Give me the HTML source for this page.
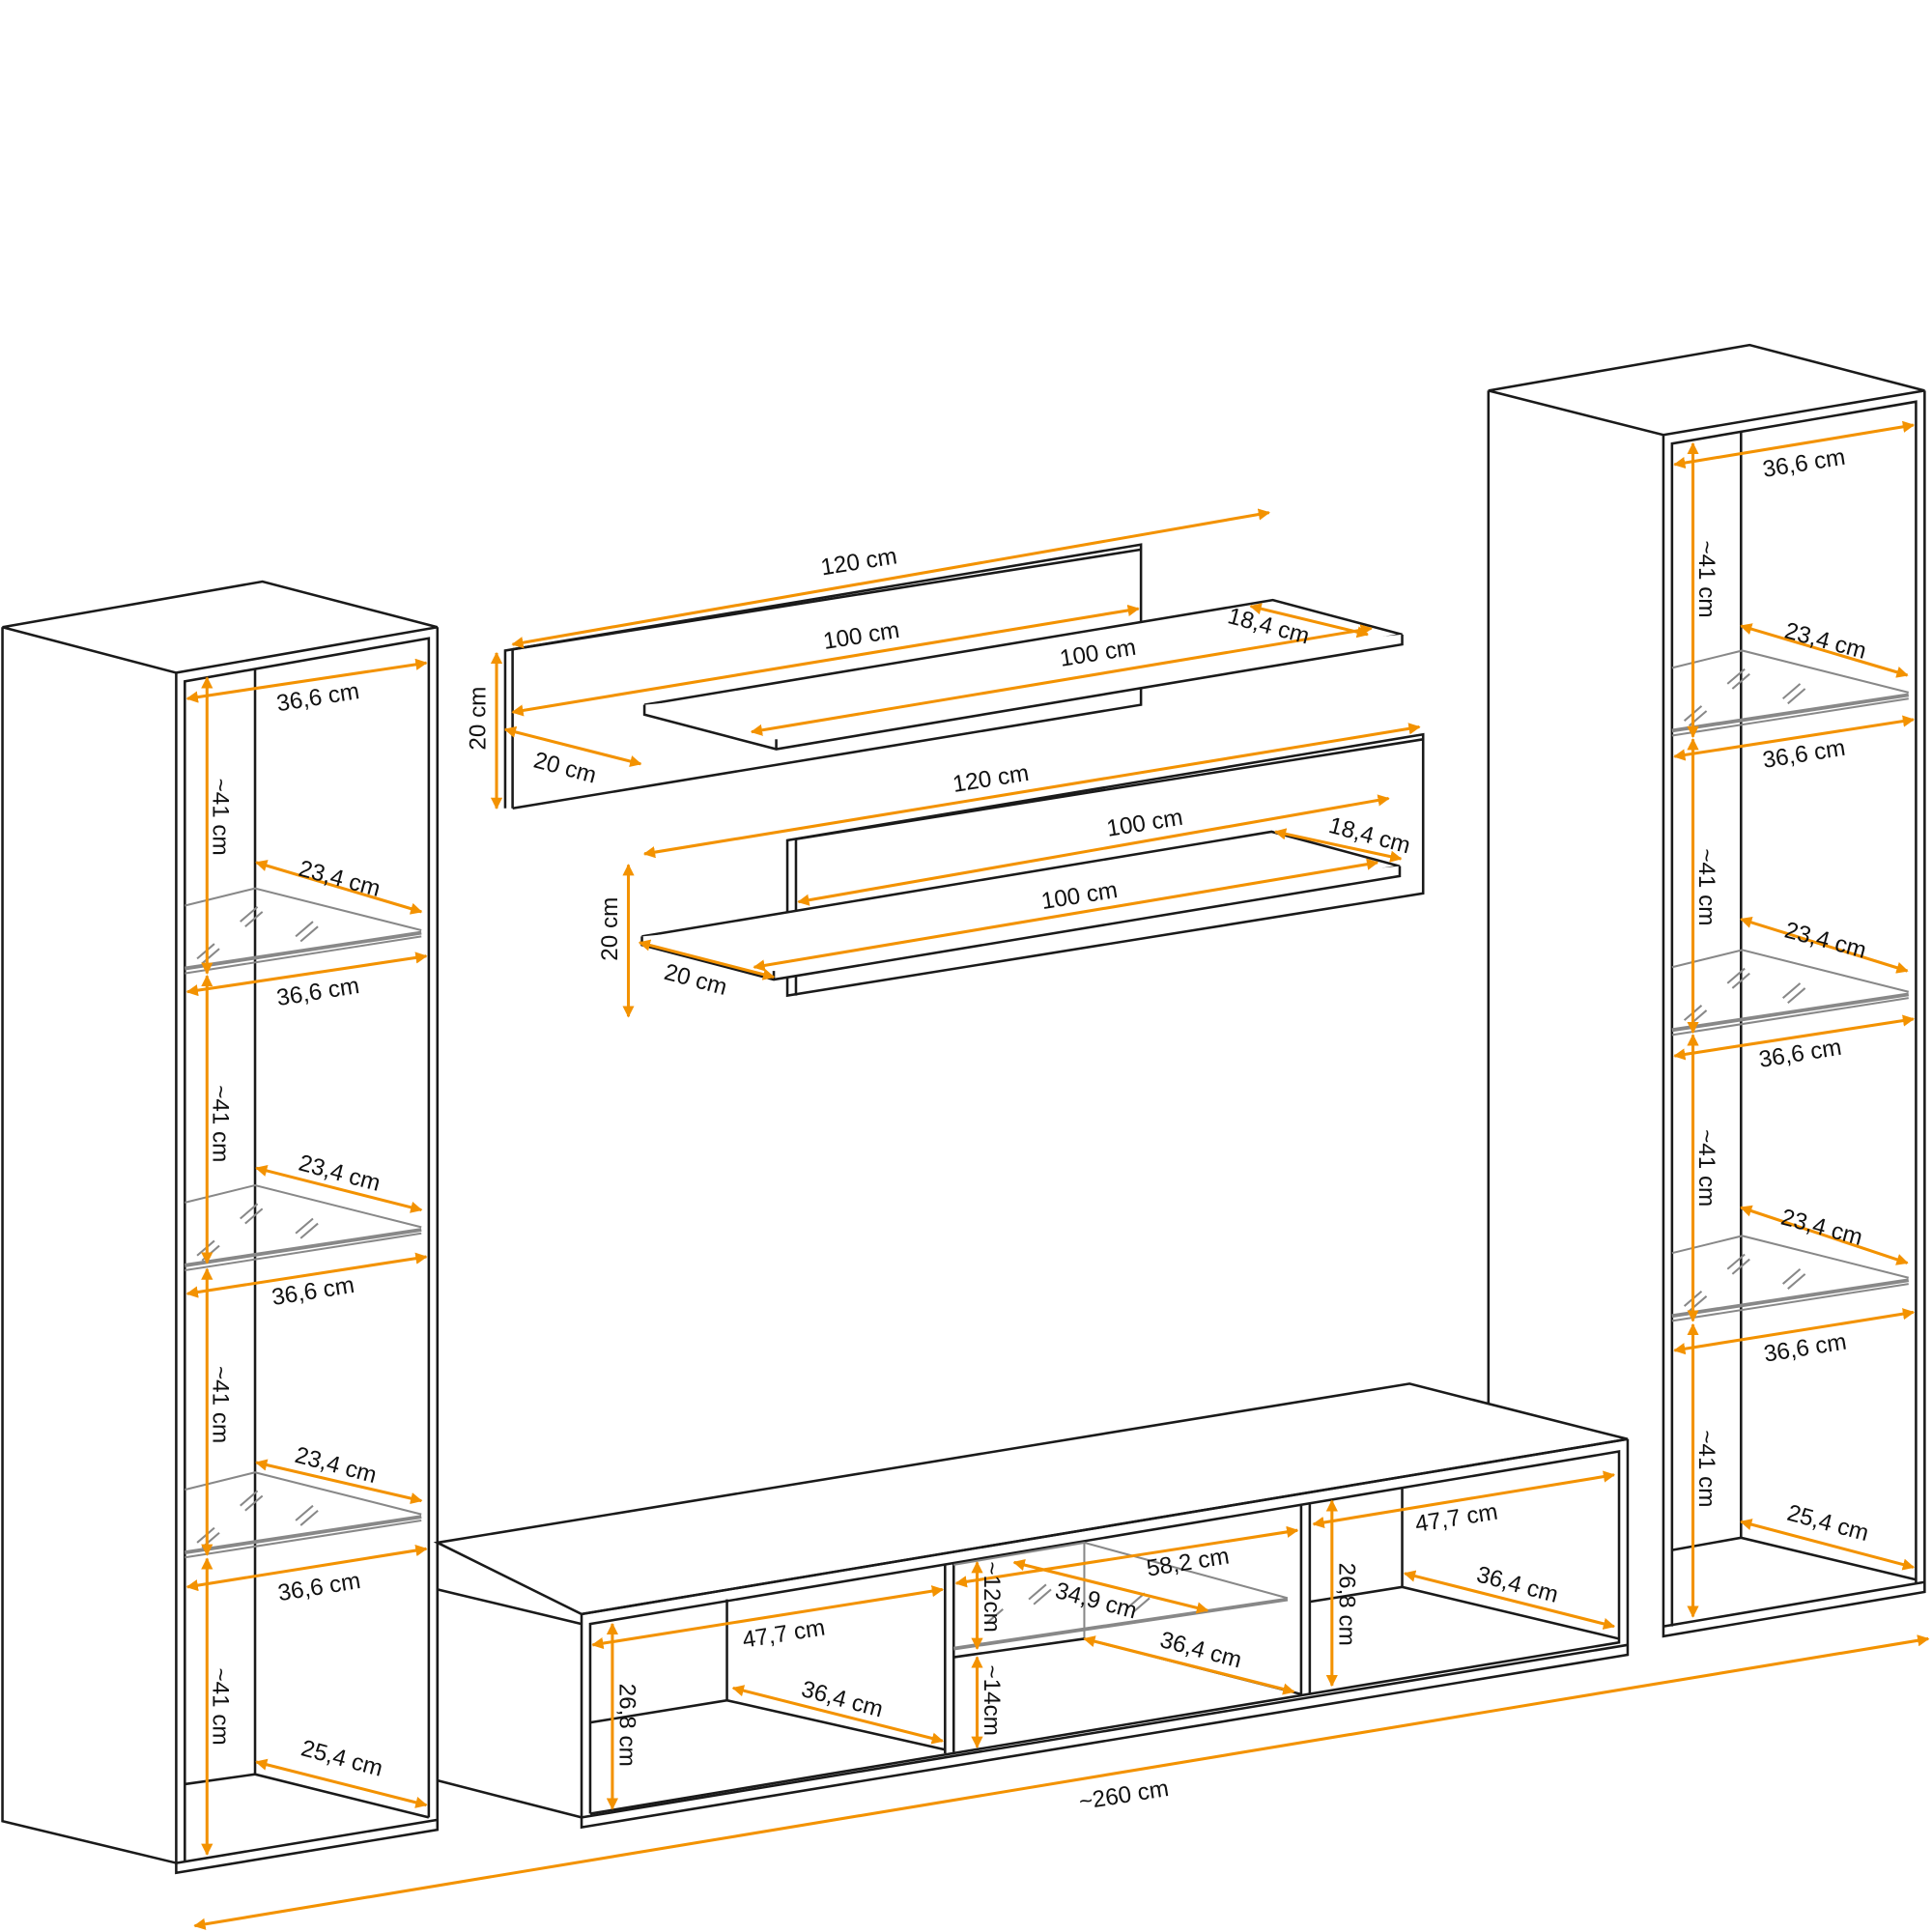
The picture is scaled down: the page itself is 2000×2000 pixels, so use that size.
<!DOCTYPE html>
<html><head><meta charset="utf-8"><style>
html,body{margin:0;padding:0;background:#fff}
svg{display:block}
text{font-family:"Liberation Sans",sans-serif;font-size:19px;fill:#111}
.k{stroke:#1a1a1a;stroke-width:2;fill:none}
.kf{stroke:#1a1a1a;stroke-width:2;fill:#fff}
.g{stroke:#888;stroke-width:1.6;fill:none}
.gf{stroke:#888;stroke-width:3;fill:none}
.o{stroke:#f39200;stroke-width:2.4;fill:none;marker-start:url(#a);marker-end:url(#a)}
</style></head><body>
<svg width="2000" height="2000" viewBox="0 0 1568 1568" xmlns="http://www.w3.org/2000/svg">
<defs><marker id="a" viewBox="0 0 10 10" refX="9" refY="5" markerWidth="4" markerHeight="4" orient="auto-start-reverse"><path d="M0,0 L10,5 L0,10 z" fill="#f39200"/></marker></defs>

<!-- LEFT TOWER -->
<polygon class="kf" points="2,509 213,472 355,509 143,546"/>
<polyline class="k" points="2,509 2,1478 143,1512"/>
<polyline class="k" points="143,546 143,1520 355,1485 355,509"/>
<polyline class="k" points="150,1510 150,553 348,518 348,1475"/>
<line class="k" x1="143" y1="1512" x2="355" y2="1477"/>
<line class="k" x1="207" y1="543" x2="207" y2="1440"/>
<polyline class="k" points="150,1448 207,1440 348,1475"/>
<g id="gl1">
<polyline class="g" points="150,735 207,721 342,755"/>
<line class="gf" x1="150" y1="786" x2="342" y2="757"/>
<line class="g" x1="150" y1="790" x2="342" y2="760"/>
<path class="g" d="M160,778 l14,-12 M164,782 l14,-12 M195,748 l14,-12 M199,752 l14,-12 M240,760 l14,-12 M244,764 l14,-12"/>
</g>
<use href="#gl1" y="241"/>
<use href="#gl1" y="474"/>

<!-- RIGHT TOWER -->
<polygon class="kf" points="1208,317 1420,280 1562,317 1350,353"/>
<line class="k" x1="1208" y1="317" x2="1208" y2="1140"/>
<polyline class="k" points="1350,353 1350,1328 1562,1292 1562,317"/>
<polyline class="k" points="1357,1320 1357,360 1555,326 1555,1285"/>
<line class="k" x1="1350" y1="1320" x2="1562" y2="1284"/>
<line class="k" x1="1413" y1="350" x2="1413" y2="1248"/>
<polyline class="k" points="1357,1258 1413,1248 1555,1282"/>
<use href="#gl1" x="1207" y="-193"/>
<use href="#gl1" x="1207" y="50"/>
<use href="#gl1" x="1207" y="282"/>

<!-- TV UNIT -->
<polygon class="kf" points="355,1252 1144,1123 1321,1168 472,1310"/>
<polyline class="k" points="355,1252 355,1445 472,1475"/>
<line class="k" x1="355" y1="1290" x2="472" y2="1318"/>
<polyline class="k" points="472,1310 472,1483 1321,1343 1321,1168"/>
<line class="k" x1="472" y1="1310" x2="1321" y2="1168"/>
<polyline class="k" points="479,1472 479,1318 1314,1178 1314,1333 479,1472"/>
<line class="k" x1="472" y1="1475" x2="1321" y2="1335"/>
<line class="k" x1="767" y1="1270" x2="767" y2="1423"/>
<line class="k" x1="774" y1="1269" x2="774" y2="1422"/>
<line class="k" x1="1056" y1="1222" x2="1056" y2="1376"/>
<line class="k" x1="1063" y1="1221" x2="1063" y2="1375"/>
<line class="k" x1="590" y1="1298" x2="590" y2="1380"/>
<polyline class="k" points="479,1398 590,1380 767,1420"/>
<polyline class="g" points="774,1270 880,1252 1045,1297"/>
<line class="gf" x1="774" y1="1338" x2="1045" y2="1298"/>
<line class="g" x1="880" y1="1252" x2="880" y2="1330"/>
<line class="k" x1="774" y1="1345" x2="880" y2="1330"/>
<line class="k" x1="880" y1="1330" x2="1056" y2="1375"/>
<path class="g" d="M835,1298 l14,-12 M839,1302 l14,-12 M915,1305 l14,-12 M919,1309 l14,-12 M800,1318 l14,-12"/>
<line class="k" x1="1138" y1="1208" x2="1138" y2="1288"/>
<polyline class="k" points="1063,1300 1138,1288 1314,1330"/>

<!-- SHELF 1 -->
<polyline class="kf" points="410,656 410,528 926,442 926,572 416,656"/>
<line class="k" x1="416" y1="527" x2="416" y2="656"/>
<line class="k" x1="416" y1="527" x2="926" y2="446"/>
<polygon class="kf" points="523,572 1033,487 1138,515 630,600"/>
<polyline class="kf" points="523,572 523,580 630,608 1138,523 1138,515"/>
<line class="k" x1="630" y1="600" x2="630" y2="608"/>

<!-- SHELF 2 -->
<polygon class="kf" points="639,682 1155,596 1155,725 639,808"/>
<line class="k" x1="646" y1="681" x2="646" y2="808"/>
<line class="k" x1="646" y1="681" x2="1155" y2="600"/>
<polygon class="kf" points="521,760 1032,675 1136,703 628,788"/>
<polyline class="kf" points="521,760 521,767 628,795 1136,711 1136,703"/>
<line class="k" x1="628" y1="788" x2="628" y2="795"/>

<!-- ORANGE ARROWS -->
<g>
<line class="o" x1="152" y1="567" x2="346" y2="538"/>
<line class="o" x1="168" y1="550" x2="168" y2="790"/>
<line class="o" x1="208" y1="700" x2="342" y2="740"/>
<line class="o" x1="152" y1="805" x2="346" y2="776"/>
<line class="o" x1="168" y1="792" x2="168" y2="1025"/>
<line class="o" x1="208" y1="948" x2="342" y2="982"/>
<line class="o" x1="152" y1="1050" x2="346" y2="1020"/>
<line class="o" x1="168" y1="1030" x2="168" y2="1262"/>
<line class="o" x1="208" y1="1187" x2="342" y2="1218"/>
<line class="o" x1="152" y1="1288" x2="346" y2="1257"/>
<line class="o" x1="168" y1="1265" x2="168" y2="1505"/>
<line class="o" x1="208" y1="1430" x2="346" y2="1465"/>

<line class="o" x1="1359" y1="377" x2="1553" y2="345"/>
<line class="o" x1="1374" y1="360" x2="1374" y2="598"/>
<line class="o" x1="1413" y1="508" x2="1548" y2="548"/>
<line class="o" x1="1359" y1="614" x2="1553" y2="584"/>
<line class="o" x1="1374" y1="600" x2="1374" y2="838"/>
<line class="o" x1="1413" y1="746" x2="1548" y2="788"/>
<line class="o" x1="1359" y1="857" x2="1553" y2="827"/>
<line class="o" x1="1374" y1="840" x2="1374" y2="1072"/>
<line class="o" x1="1413" y1="980" x2="1548" y2="1025"/>
<line class="o" x1="1359" y1="1096" x2="1553" y2="1065"/>
<line class="o" x1="1374" y1="1075" x2="1374" y2="1312"/>
<line class="o" x1="1413" y1="1235" x2="1553" y2="1272"/>

<line class="o" x1="481" y1="1335" x2="765" y2="1290"/>
<line class="o" x1="497" y1="1318" x2="497" y2="1468"/>
<line class="o" x1="595" y1="1370" x2="765" y2="1413"/>
<line class="o" x1="776" y1="1285" x2="1053" y2="1242"/>
<line class="o" x1="823" y1="1268" x2="980" y2="1307"/>
<line class="o" x1="793" y1="1268" x2="793" y2="1338"/>
<line class="o" x1="793" y1="1345" x2="793" y2="1418"/>
<line class="o" x1="880" y1="1330" x2="1050" y2="1373"/>
<line class="o" x1="1066" y1="1237" x2="1310" y2="1197"/>
<line class="o" x1="1081" y1="1218" x2="1081" y2="1368"/>
<line class="o" x1="1140" y1="1277" x2="1310" y2="1320"/>
<line class="o" x1="158" y1="1563" x2="1565" y2="1330"/>

<line class="o" x1="416" y1="523" x2="1030" y2="416"/>
<line class="o" x1="416" y1="578" x2="924" y2="494"/>
<line class="o" x1="610" y1="594" x2="1113" y2="510"/>
<line class="o" x1="1015" y1="492" x2="1110" y2="515"/>
<line class="o" x1="403" y1="530" x2="403" y2="656"/>
<line class="o" x1="410" y1="592" x2="520" y2="620"/>

<line class="o" x1="523" y1="693" x2="1152" y2="590"/>
<line class="o" x1="648" y1="732" x2="1127" y2="648"/>
<line class="o" x1="612" y1="785" x2="1118" y2="700"/>
<line class="o" x1="1035" y1="675" x2="1137" y2="697"/>
<line class="o" x1="510" y1="702" x2="510" y2="825"/>
<line class="o" x1="519" y1="765" x2="628" y2="793"/>
</g>

<!-- LABELS -->
<g text-anchor="middle">
<text transform="translate(259,572) rotate(-9)">36,6 cm</text>
<text transform="translate(173,663) rotate(90)">~41 cm</text>
<text transform="translate(274,719) rotate(15)">23,4 cm</text>
<text transform="translate(259,811) rotate(-9)">36,6 cm</text>
<text transform="translate(173,912) rotate(90)">~41 cm</text>
<text transform="translate(274,958) rotate(15)">23,4 cm</text>
<text transform="translate(255,1054) rotate(-9)">36,6 cm</text>
<text transform="translate(173,1140) rotate(90)">~41 cm</text>
<text transform="translate(271,1195) rotate(15)">23,4 cm</text>
<text transform="translate(260,1294) rotate(-9)">36,6 cm</text>
<text transform="translate(173,1385) rotate(90)">~41 cm</text>
<text transform="translate(276,1433) rotate(15)">25,4 cm</text>

<text transform="translate(1465,382) rotate(-9)">36,6 cm</text>
<text transform="translate(1379,470) rotate(90)">~41 cm</text>
<text transform="translate(1480,526) rotate(15)">23,4 cm</text>
<text transform="translate(1465,618) rotate(-9)">36,6 cm</text>
<text transform="translate(1379,720) rotate(90)">~41 cm</text>
<text transform="translate(1480,769) rotate(15)">23,4 cm</text>
<text transform="translate(1462,861) rotate(-9)">36,6 cm</text>
<text transform="translate(1379,948) rotate(90)">~41 cm</text>
<text transform="translate(1477,1002) rotate(15)">23,4 cm</text>
<text transform="translate(1466,1100) rotate(-9)">36,6 cm</text>
<text transform="translate(1379,1192) rotate(90)">~41 cm</text>
<text transform="translate(1482,1242) rotate(15)">25,4 cm</text>

<text transform="translate(637,1332) rotate(-9)">47,7 cm</text>
<text transform="translate(503,1400) rotate(90)">26,8 cm</text>
<text transform="translate(682,1385) rotate(15)">36,4 cm</text>
<text transform="translate(965,1274) rotate(-9)">58,2 cm</text>
<text transform="translate(888,1305) rotate(15)">34,9 cm</text>
<text transform="translate(799,1296) rotate(90)">~12cm</text>
<text transform="translate(799,1380) rotate(90)">~14cm</text>
<text transform="translate(973,1345) rotate(15)">36,4 cm</text>
<text transform="translate(1183,1238) rotate(-9)">47,7 cm</text>
<text transform="translate(1087,1302) rotate(90)">26,8 cm</text>
<text transform="translate(1230,1292) rotate(15)">36,4 cm</text>
<text transform="translate(913,1463) rotate(-9)">~260 cm</text>

<text transform="translate(698,462) rotate(-9)">120 cm</text>
<text transform="translate(700,522) rotate(-9)">100 cm</text>
<text transform="translate(892,536) rotate(-9)">100 cm</text>
<text transform="translate(1028,514) rotate(15)">18,4 cm</text>
<text transform="translate(394,583) rotate(-90)">20 cm</text>
<text transform="translate(457,629) rotate(15)">20 cm</text>

<text transform="translate(805,638) rotate(-9)">120 cm</text>
<text transform="translate(930,674) rotate(-9)">100 cm</text>
<text transform="translate(877,733) rotate(-9)">100 cm</text>
<text transform="translate(1110,684) rotate(15)">18,4 cm</text>
<text transform="translate(501,754) rotate(-90)">20 cm</text>
<text transform="translate(563,801) rotate(15)">20 cm</text>
</g>
</svg>
</body></html>
